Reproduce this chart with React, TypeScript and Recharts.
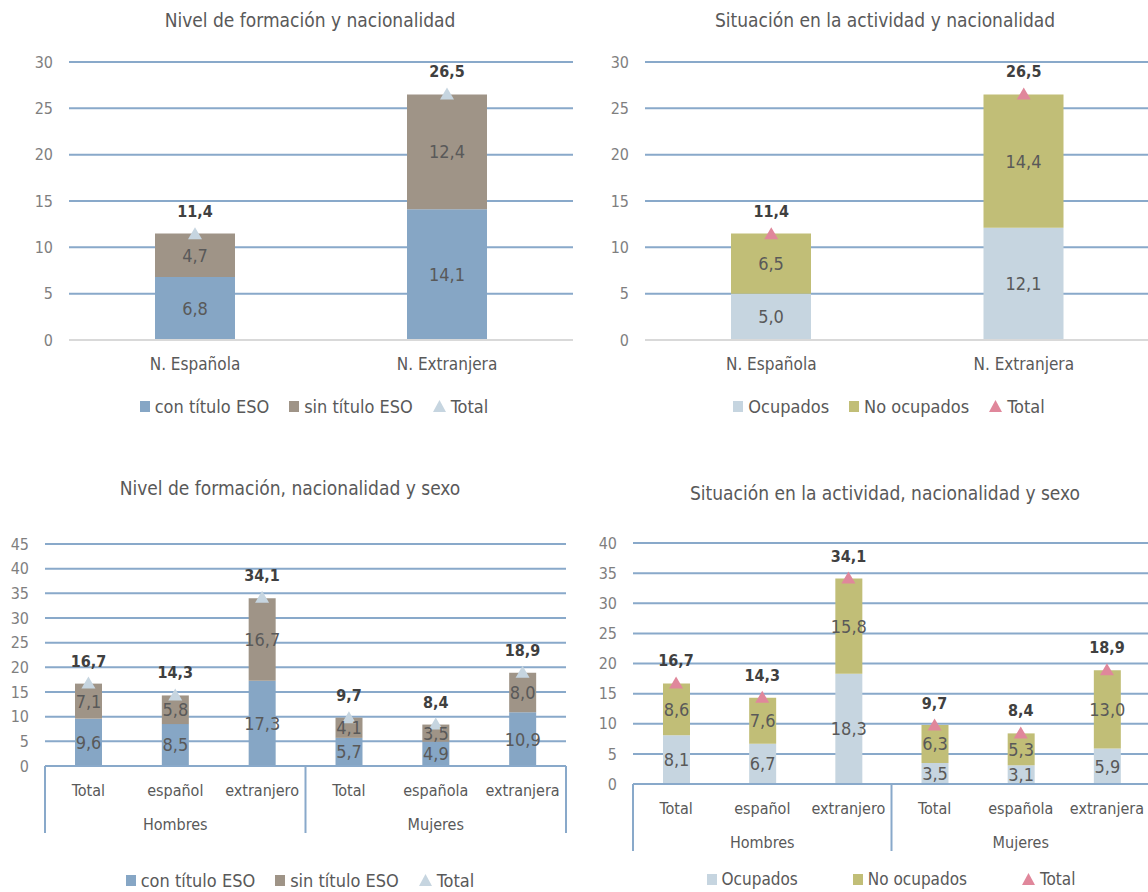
import React from 'react'
import { ComposedChart, Bar, Line, XAxis, YAxis, CartesianGrid, LabelList } from 'recharts'

const FONT = "'Liberation Sans Narrow', 'Arial Narrow', 'DejaVu Sans Condensed', sans-serif"

// top row: by nationality
const nationalities = ['N. Española', 'N.  Extranjera']
const conTituloNac = [6.8, 14.1]
const sinTituloNac = [4.7, 12.4]
const ocupadosNac = [5.0, 12.1]
const noOcupadosNac = [6.5, 14.4]
const totalNac = [11.4, 26.5]

// bottom row: by nationality and sex
const subgroups = ['Total', 'español', 'extranjero', 'Total', 'española', 'extranjera']
const sexes = ['Hombres', 'Mujeres']
const conTituloSexo = [9.6, 8.5, 17.3, 5.7, 4.9, 10.9]
const sinTituloSexo = [7.1, 5.8, 16.7, 4.1, 3.5, 8.0]
const ocupadosSexo = [8.1, 6.7, 18.3, 3.5, 3.1, 5.9]
const noOcupadosSexo = [8.6, 7.6, 15.8, 6.3, 5.3, 13.0]
const totalSexo = [16.7, 14.3, 34.1, 9.7, 8.4, 18.9]

const ticks30 = [0, 5, 10, 15, 20, 25, 30]
const ticks45 = [0, 5, 10, 15, 20, 25, 30, 35, 40, 45]
const ticks40 = [0, 5, 10, 15, 20, 25, 30, 35, 40]

const BLUE = '#86A6C5'
const TAUPE = '#9F9487'
const PALE = '#C6D5E0'
const OLIVE = '#C1BE77'
const PINK = '#E0879B'
const GRID = '#89A9CA'
const TEXT = '#595959'

const fmt = (v: any) => (typeof v === 'number' ? v.toFixed(1).replace('.', ',') : v)

const buildRows = (cats: string[], a: number[], b: number[], total: number[]) =>
    cats.map((cat, i) => ({ cat, a: a[i], b: b[i], total: total[i] }))

const triangleDot = (color: string) => (props: any) => {
    const { cx, cy, index } = props
    if (cx == null || cy == null) return <g key={index} />
    return <path key={index} d={`M${cx},${cy - 7}L${cx + 7},${cy + 5}L${cx - 7},${cy + 5}Z`} fill={color} />
}

const totalLabel = (props: any) => {
    const x = props.x ?? props.viewBox?.x
    const y = props.y ?? props.viewBox?.y
    return (
        <text x={x} y={y - 17} textAnchor="middle" fontWeight="bold" fontSize={16} fill="#404040" fontFamily={FONT}>
            {fmt(props.value)}
        </text>
    )
}

const simpleTick = (props: any) => (
    <text x={props.x} y={props.y + 30} textAnchor="middle" fill={TEXT} fontSize={17} fontFamily={FONT}>
        {props.payload.value}
    </text>
)

const groupTick = (band: number) => (props: any) => {
    const { x, y, payload } = props
    const i = props.index ?? payload.index
    return (
        <g>
            <text x={x} y={y + 30} textAnchor="middle" fill={TEXT} fontSize={16} fontFamily={FONT}>
                {payload.value}
            </text>
            {i % 3 === 1 && (
                <text x={x} y={y + 64} textAnchor="middle" fill={TEXT} fontSize={16} fontFamily={FONT}>
                    {sexes[Math.floor(i / 3)]}
                </text>
            )}
            {i % 3 === 0 && <line x1={x - band / 2} x2={x - band / 2} y1={y} y2={y + 67} stroke={GRID} strokeWidth={2} />}
            {i === 5 && <line x1={x + band / 2} x2={x + band / 2} y1={y} y2={y + 67} stroke={GRID} strokeWidth={2} />}
        </g>
    )
}

interface StackProps {
    rows: { cat: string; a: number; b: number; total: number }[]
    colors: [string, string, string]
    left: number
    top: number
    width: number
    height: number
    yWidth: number
    mt: number
    mr: number
    mb: number
    xh: number
    barSize: number
    domainMax: number
    ticks: number[]
    grouped?: boolean
}

const StackChart: React.FC<StackProps> = ({ rows, colors, left, top, width, height, yWidth, mt, mr, mb, xh, barSize, domainMax, ticks, grouped }) => {
    const band = (width - yWidth - mr) / rows.length
    return (
        <div style={{ position: 'absolute', left, top }}>
            <ComposedChart width={width} height={height} data={rows} margin={{ top: mt, right: mr, left: 0, bottom: mb }}>
                <CartesianGrid vertical={false} stroke={GRID} strokeWidth={2} />
                <XAxis
                    dataKey="cat"
                    tickLine={false}
                    tickSize={0}
                    tickMargin={0}
                    height={xh}
                    interval={0}
                    axisLine={{ stroke: grouped ? GRID : '#D9D9D9', strokeWidth: 2 }}
                    tick={grouped ? groupTick(band) : simpleTick}
                />
                <YAxis
                    width={yWidth}
                    domain={[0, domainMax]}
                    ticks={ticks}
                    interval={0}
                    axisLine={false}
                    tickLine={false}
                    tickMargin={10}
                    tick={{ fill: '#7F7F7F', fontSize: 16, fontFamily: FONT }}
                />
                <Bar dataKey="a" stackId="s" fill={colors[0]} barSize={barSize} isAnimationActive={false}>
                    <LabelList dataKey="a" position="center" formatter={fmt} fill={TEXT} fontSize={18} fontFamily={FONT} />
                </Bar>
                <Bar dataKey="b" stackId="s" fill={colors[1]} barSize={barSize} isAnimationActive={false}>
                    <LabelList dataKey="b" position="center" formatter={fmt} fill={TEXT} fontSize={18} fontFamily={FONT} />
                </Bar>
                <Line dataKey="total" stroke="none" dot={triangleDot(colors[2])} activeDot={false} isAnimationActive={false}>
                    <LabelList dataKey="total" content={totalLabel} />
                </Line>
            </ComposedChart>
        </div>
    )
}

const Title = ({ text, cx, cy }: { text: string; cx: number; cy: number }) => (
    <div
        style={{
            position: 'absolute', left: cx - 300, width: 600, top: cy - 12, textAlign: 'center',
            fontFamily: FONT, fontSize: 19, lineHeight: '24px', color: TEXT,
        }}
    >
        {text}
    </div>
)

const LegendRow = ({ items, cx, cy, gap, size = 18 }: { items: { label: string; color: string; tri?: boolean }[]; cx: number; cy: number; gap: number; size?: number }) => (
    <div
        style={{
            position: 'absolute', left: cx - 300, width: 600, top: cy - 11, height: 22, display: 'flex',
            justifyContent: 'center', alignItems: 'center', gap, fontFamily: FONT, fontSize: size, color: TEXT,
        }}
    >
        {items.map(it => (
            <div key={it.label} style={{ display: 'flex', alignItems: 'center', gap: 5 }}>
                {it.tri ? (
                    <svg width={13} height={12}><path d="M6.5,0L13,12L0,12Z" fill={it.color} /></svg>
                ) : (
                    <div style={{ width: 10, height: 11, background: it.color }} />
                )}
                <span>{it.label}</span>
            </div>
        ))}
    </div>
)

export default function App() {
    const formacionNac = buildRows(nationalities, conTituloNac, sinTituloNac, totalNac)
    const actividadNac = buildRows(nationalities, ocupadosNac, noOcupadosNac, totalNac)
    const formacionSexo = buildRows(subgroups, conTituloSexo, sinTituloSexo, totalSexo)
    const actividadSexo = buildRows(subgroups, ocupadosSexo, noOcupadosSexo, totalSexo)

    const formacionItems = [
        { label: 'con título ESO', color: BLUE },
        { label: 'sin título ESO', color: TAUPE },
        { label: 'Total', color: PALE, tri: true },
    ]
    const actividadItems = [
        { label: 'Ocupados', color: PALE },
        { label: 'No ocupados', color: OLIVE },
        { label: 'Total', color: PINK, tri: true },
    ]

    return (
        <div style={{ position: 'absolute', left: 0, top: 0, width: 1148, height: 892, overflow: 'hidden', background: '#fff' }}>
            <Title text="Nivel de formación y nacionalidad" cx={310} cy={20} />
            <StackChart
                rows={formacionNac} colors={[BLUE, TAUPE, PALE]}
                left={0} top={0} width={575} height={380} yWidth={69} mt={62} mr={2} mb={0} xh={40}
                barSize={80} domainMax={30} ticks={ticks30}
            />
            <LegendRow items={formacionItems} cx={314} cy={406} gap={20} />

            <Title text="Situación en la actividad y nacionalidad" cx={885} cy={20} />
            <StackChart
                rows={actividadNac} colors={[PALE, OLIVE, PINK]}
                left={574} top={0} width={576} height={380} yWidth={71} mt={62} mr={0} mb={0} xh={40}
                barSize={80} domainMax={30} ticks={ticks30}
            />
            <LegendRow items={actividadItems} cx={889} cy={406} gap={20} />

            <Title text="Nivel de formación, nacionalidad y sexo" cx={290} cy={488} />
            <StackChart
                rows={formacionSexo} colors={[BLUE, TAUPE, PALE]}
                left={0} top={430} width={568} height={462} yWidth={45} mt={114} mr={2} mb={46} xh={80}
                barSize={27} domainMax={45} ticks={ticks45} grouped
            />
            <LegendRow items={formacionItems} cx={300} cy={880} gap={20} />

            <Title text="Situación en la actividad, nacionalidad y sexo" cx={885} cy={493} />
            <StackChart
                rows={actividadSexo} colors={[PALE, OLIVE, PINK]}
                left={574} top={430} width={576} height={462} yWidth={59} mt={113} mr={0} mb={28} xh={80}
                barSize={27} domainMax={40} ticks={ticks40} grouped
            />
            <LegendRow items={actividadItems} cx={891} cy={879} gap={55} size={17} />
        </div>
    )
}
